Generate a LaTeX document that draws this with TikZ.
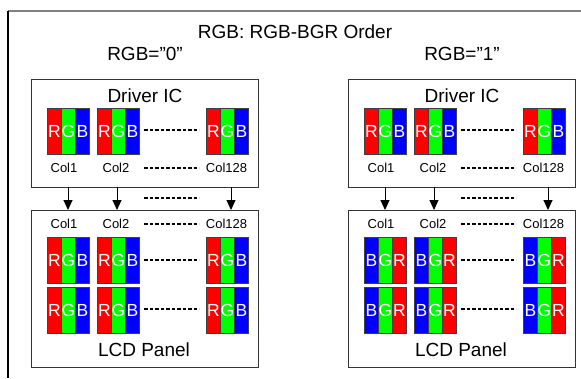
\documentclass[tikz,border=0pt]{standalone}
\usepackage{fontspec}
\setmainfont{Liberation Sans}
\usetikzlibrary{arrows.meta}
\definecolor{pr}{HTML}{FF0000}
\definecolor{pg}{HTML}{00FF00}
\definecolor{pb}{HTML}{0000FF}
\definecolor{framegray}{HTML}{808080}
\tikzset{
  stripe/.style={draw=black!75, line width=0.8pt, minimum width=14pt, minimum height=46pt,
    inner sep=0pt, text=white, font=\fontsize{17.5}{18}\selectfont, anchor=north west},
  panelbox/.style={draw=black!80, line width=1pt, anchor=north west, inner sep=0pt},
  bigtext/.style={font=\fontsize{19}{22}\selectfont, inner sep=0pt},
  coltext/.style={font=\fontsize{13}{15}\selectfont, inner sep=0pt},
  dots/.style={line width=1.2pt, dash pattern=on 3.5pt off 2pt},
  arr/.style={line width=1pt, -{Triangle[length=10pt,width=9pt]}},
}
\newcommand\rgbblk[3]{%
  \node[stripe, fill=pr] (#1a) at (#2,#3) {R};
  \node[stripe, fill=pg] (#1b) at (#2+14,#3) {G};
  \node[stripe, fill=pb] (#1c) at (#2+28,#3) {B};
}
\newcommand\bgrblk[3]{%
  \node[stripe, fill=pb] (#1a) at (#2,#3) {B};
  \node[stripe, fill=pg] (#1b) at (#2+14,#3) {G};
  \node[stripe, fill=pr] (#1c) at (#2+28,#3) {R};
}
\begin{document}
\begin{tikzpicture}[x=1pt,y=-1pt]
\useasboundingbox (0,0) rectangle (581,378);
% frame
\coordinate (fTL) at (8,11);
\coordinate (fTR) at (581,11);
\coordinate (fBL) at (8,378);
\draw[framegray, line width=2pt] (fTL) -- (fTR);
\draw[black, line width=1.5pt] (fTL) -- (fBL);
% title
\node[bigtext] (title) at (295,32) {RGB: RGB-BGR Order};
\node[bigtext] (hL) at (145,54) {RGB=”0"};
\node[bigtext] (hR) at (462,54) {RGB=”1"};
\foreach \s/\o in {L/0,R/317}{
  % boxes
  \node[panelbox, minimum width=227pt, minimum height=108pt] (dic\s) at (31+\o,79) {};
  \node[panelbox, minimum width=227pt, minimum height=157pt] (lcd\s) at (31+\o,210) {};
  \node[bigtext] (dict\s) at (145+\o,96) {Driver IC};
  \node[bigtext] (lcdt\s) at (144+\o,350) {LCD Panel};
  % driver IC blocks
  \rgbblk{d\s1}{47+\o}{108}
  \rgbblk{d\s2}{97+\o}{108}
  \rgbblk{d\s3}{206+\o}{108}
  % col labels
  \node[coltext] (dc\s1) at (64+\o,168) {Col1};
  \node[coltext] (dc\s2) at (116+\o,168) {Col2};
  \node[coltext] (dc\s3) at (226.5+\o,168) {Col128};
  \node[coltext] (lc\s1) at (64+\o,224) {Col1};
  \node[coltext] (lc\s2) at (116+\o,224) {Col2};
  \node[coltext] (lc\s3) at (226.5+\o,224) {Col128};
  % dashed fillers
  \foreach \yy [count=\k] in {130,168,198,224,260,309}{
    \coordinate (da\s\k) at (144+\o,\yy);
    \coordinate (db\s\k) at (199+\o,\yy);
    \draw[dots] (da\s\k) -- (db\s\k);
  }
  % arrows
  \foreach \xx [count=\k] in {68,117,231}{
    \coordinate (at\s\k) at (\xx+\o,187);
    \coordinate (ah\s\k) at (\xx+\o,210);
    \draw[arr] (at\s\k) -- (ah\s\k);
  }
}
% LCD blocks
\foreach \yy [count=\r] in {237,287}{
  \rgbblk{lL\r1}{47}{\yy}
  \rgbblk{lL\r2}{97}{\yy}
  \rgbblk{lL\r3}{206}{\yy}
  \bgrblk{lR\r1}{364}{\yy}
  \bgrblk{lR\r2}{414}{\yy}
  \bgrblk{lR\r3}{523}{\yy}
}
\end{tikzpicture}
\end{document}
